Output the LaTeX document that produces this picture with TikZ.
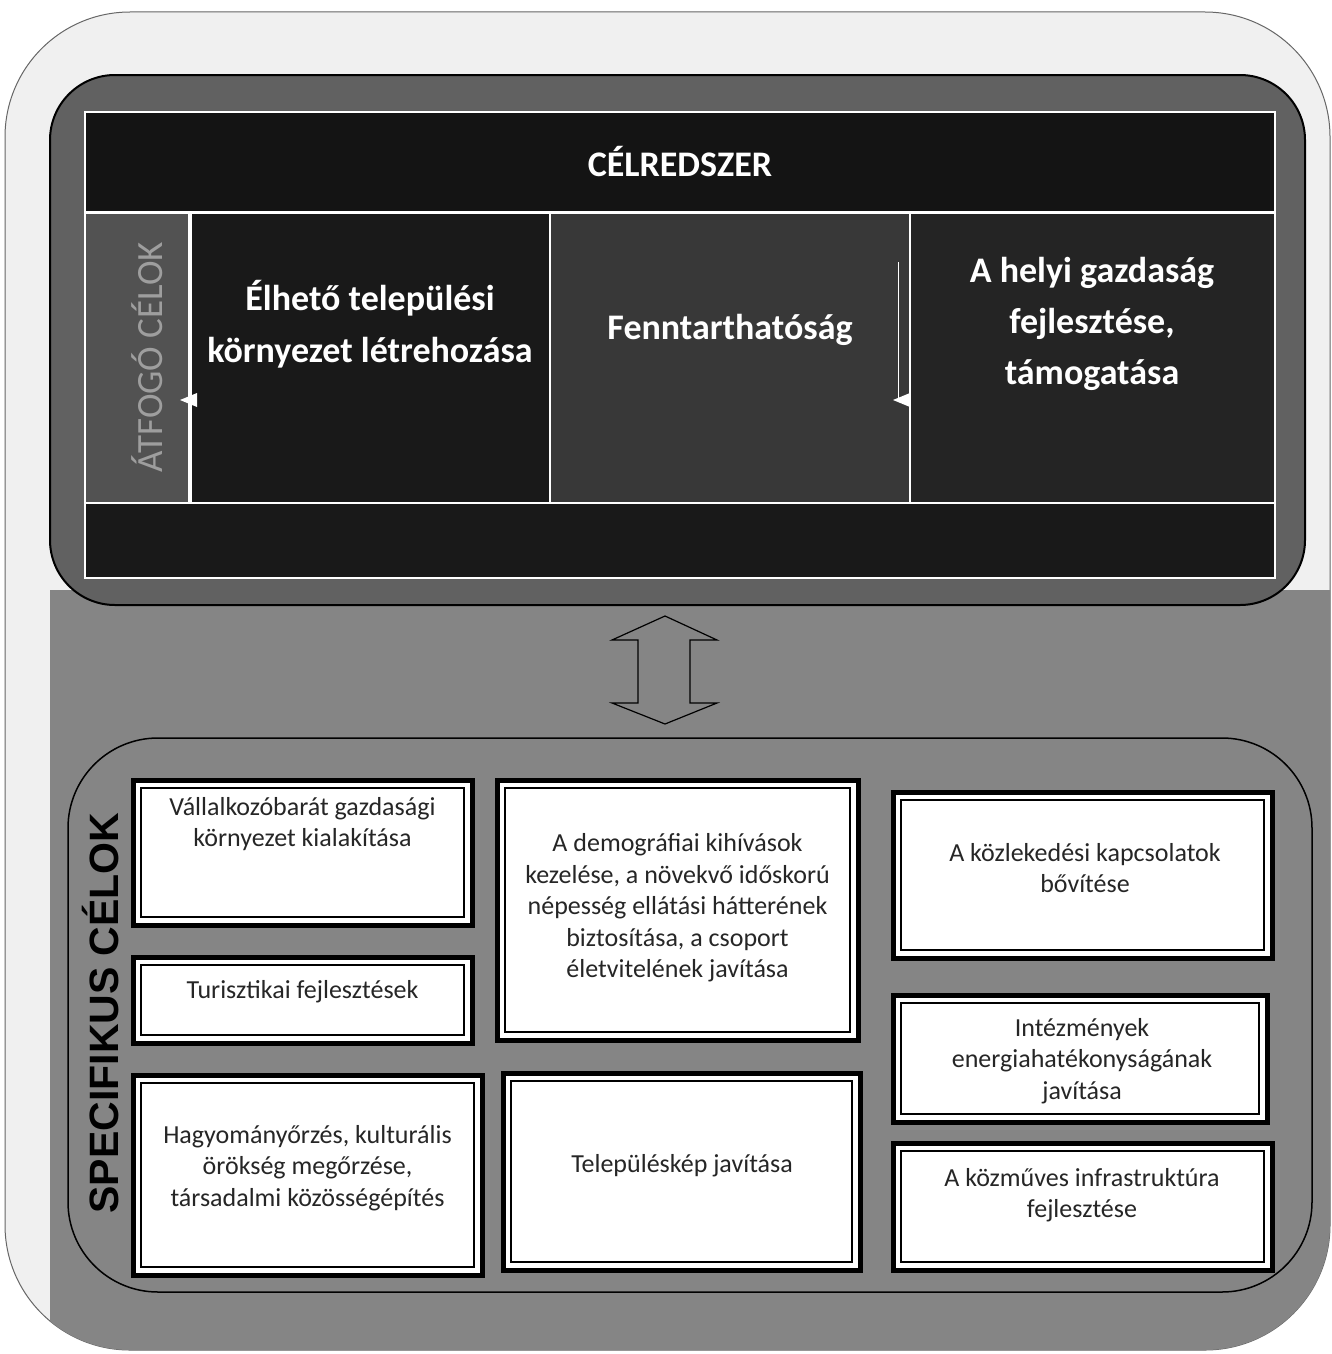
\documentclass[tikz,border=0pt]{standalone}
\usepackage{fontspec}
\setmainfont{Carlito}
\newfontfamily\arialfont{Liberation Sans}
\begin{document}
\begin{tikzpicture}[x=1pt,y=-1pt,
  every node/.style={inner sep=0pt, outer sep=0pt},
  panel/.style={draw=black, line width=1.5pt, rounded corners=#1},
  colbox/.style={draw=white, line width=1.5pt, fill=black!88},
  goal/.style={text=white, font=\bfseries\fontsize{36}{52}\selectfont, align=center},
  sbox/.style={draw=black, line width=5pt, fill=white},
  stext/.style={font=\fontsize{26}{31.5}\selectfont, align=center, text=black!85},
  inner/.style={draw=black, line width=1.2pt},
]
\useasboundingbox (0,0) rectangle (1332,1354);

% outer frame
\node[panel=125, draw=black!60, line width=1pt, fill=black!6,
      minimum width=1325pt, minimum height=1338pt] (outer) at (667.5,681) {};
\begin{scope}
  \clip[rounded corners=125] (5,12) rectangle (1330,1350);
  \fill[black!48] (50,590) rectangle (1332,1354);
\end{scope}

% top panel
\node[panel=65, fill=black!62, line width=2pt,
      minimum width=1255pt, minimum height=530pt] (top) at (677.5,340) {};
\node[colbox, fill=black!92, minimum width=1190pt, minimum height=100pt] (hdr) at (680,162)
  {\color{white}\bfseries\fontsize{36}{40}\selectfont CÉLREDSZER};
\node[colbox, fill=black!68, minimum width=105pt, minimum height=291pt] (col0) at (137.5,357.5) {};
\node[colbox, fill=black!90, minimum width=360pt, minimum height=291pt] (col1) at (370,357.5) {};
\node[colbox, fill=black!78, minimum width=360pt, minimum height=291pt] (col2) at (730,357.5) {};
\node[colbox, fill=black!86, minimum width=365pt, minimum height=291pt] (col3) at (1092.5,357.5) {};
\node[colbox, fill=black!90, minimum width=1190pt, minimum height=75pt] (band) at (680,540.5) {};
\draw[white, line width=3pt] (hdr.south west) -- (hdr.south east);
\draw[white, line width=4pt] (col0.north east) -- (col0.south east);
\draw[white, line width=1pt] (898,262) -- (898,400);
\fill[white] (180,400) -- (197,393) -- (197,407) -- cycle;
\fill[white] (893,400) -- (910,393) -- (910,407) -- cycle;

\node[rotate=90, text=black!38, font=\fontsize{37}{40}\selectfont] (atf) at (147,357) {ÁTFOGÓ CÉLOK};
\node[goal] (g1) at (370,324) {Élhető települési\\környezet létrehozása};
\node[goal] (g2) at (730,330) {Fenntarthatóság};
\node[goal, font=\bfseries\fontsize{36}{51}\selectfont] (g3) at (1092,324) {A helyi gazdaság\\fejlesztése,\\támogatása};

% bottom panel
\node[panel=90, fill=black!48,
      minimum width=1244pt, minimum height=554pt] (bot) at (690,1015) {};

% double arrow between panels
\draw[black, line width=1.2pt, fill=black!48]
  (665,616) -- (717,640) -- (690,640) -- (690,703) -- (717,703) -- (665,724)
  -- (612,703) -- (638,703) -- (638,640) -- (612,640) -- cycle;

\node[rotate=90, font=\arialfont\bfseries\fontsize{41}{46}\selectfont, text=black] (spec) at (101,1013) {SPECIFIKUS CÉLOK};

% specific goal boxes
\node[sbox, minimum width=339pt, minimum height=145pt] (b1) at (302.5,852.5) {};
\node[stext] (b1t) at (302.5,824) {Vállalkozóbarát gazdasági\\környezet kialakítása};
\node[sbox, minimum width=339pt, minimum height=86pt] (b2) at (302.5,1000) {};
\node[stext] (b2t) at (302.5,992) {Turisztikai fejlesztések};
\node[sbox, minimum width=349pt, minimum height=200pt] (b3) at (307.5,1175) {};
\node[stext] (b3t) at (307.5,1168) {Hagyományőrzés, kulturális\\örökség megőrzése,\\társadalmi közösségépítés};
\node[sbox, minimum width=361pt, minimum height=260pt] (b4) at (677.5,910) {};
\node[stext] (b4t) at (677.5,908) {A demográfiai kihívások\\kezelése, a növekvő időskorú\\népesség ellátási hátterének\\biztosítása, a csoport\\életvitelének javítása};
\node[sbox, minimum width=357pt, minimum height=197pt] (b5) at (681.5,1171.5) {};
\node[stext] (b5t) at (682,1166) {Településkép javítása};
\node[sbox, minimum width=379pt, minimum height=166pt] (b6) at (1082.5,875) {};
\node[stext] (b6t) at (1085,868) {A közlekedési kapcsolatok\\bővítése};
\node[sbox, minimum width=374pt, minimum height=127pt] (b7) at (1080,1058.5) {};
\node[stext] (b7t) at (1082,1061) {Intézmények\\energiahatékonyságának\\javítása};
\node[sbox, minimum width=379pt, minimum height=127pt] (b8) at (1082.5,1206.5) {};
\node[stext] (b8t) at (1082,1195) {A közműves infrastruktúra\\fejlesztése};

\foreach \b in {b1,b2,b3,b4,b5,b6,b7,b8}
  \draw[inner] ([shift={(8,8)}]\b.north west) rectangle ([shift={(-8,-8)}]\b.south east);
\end{tikzpicture}
\end{document}
